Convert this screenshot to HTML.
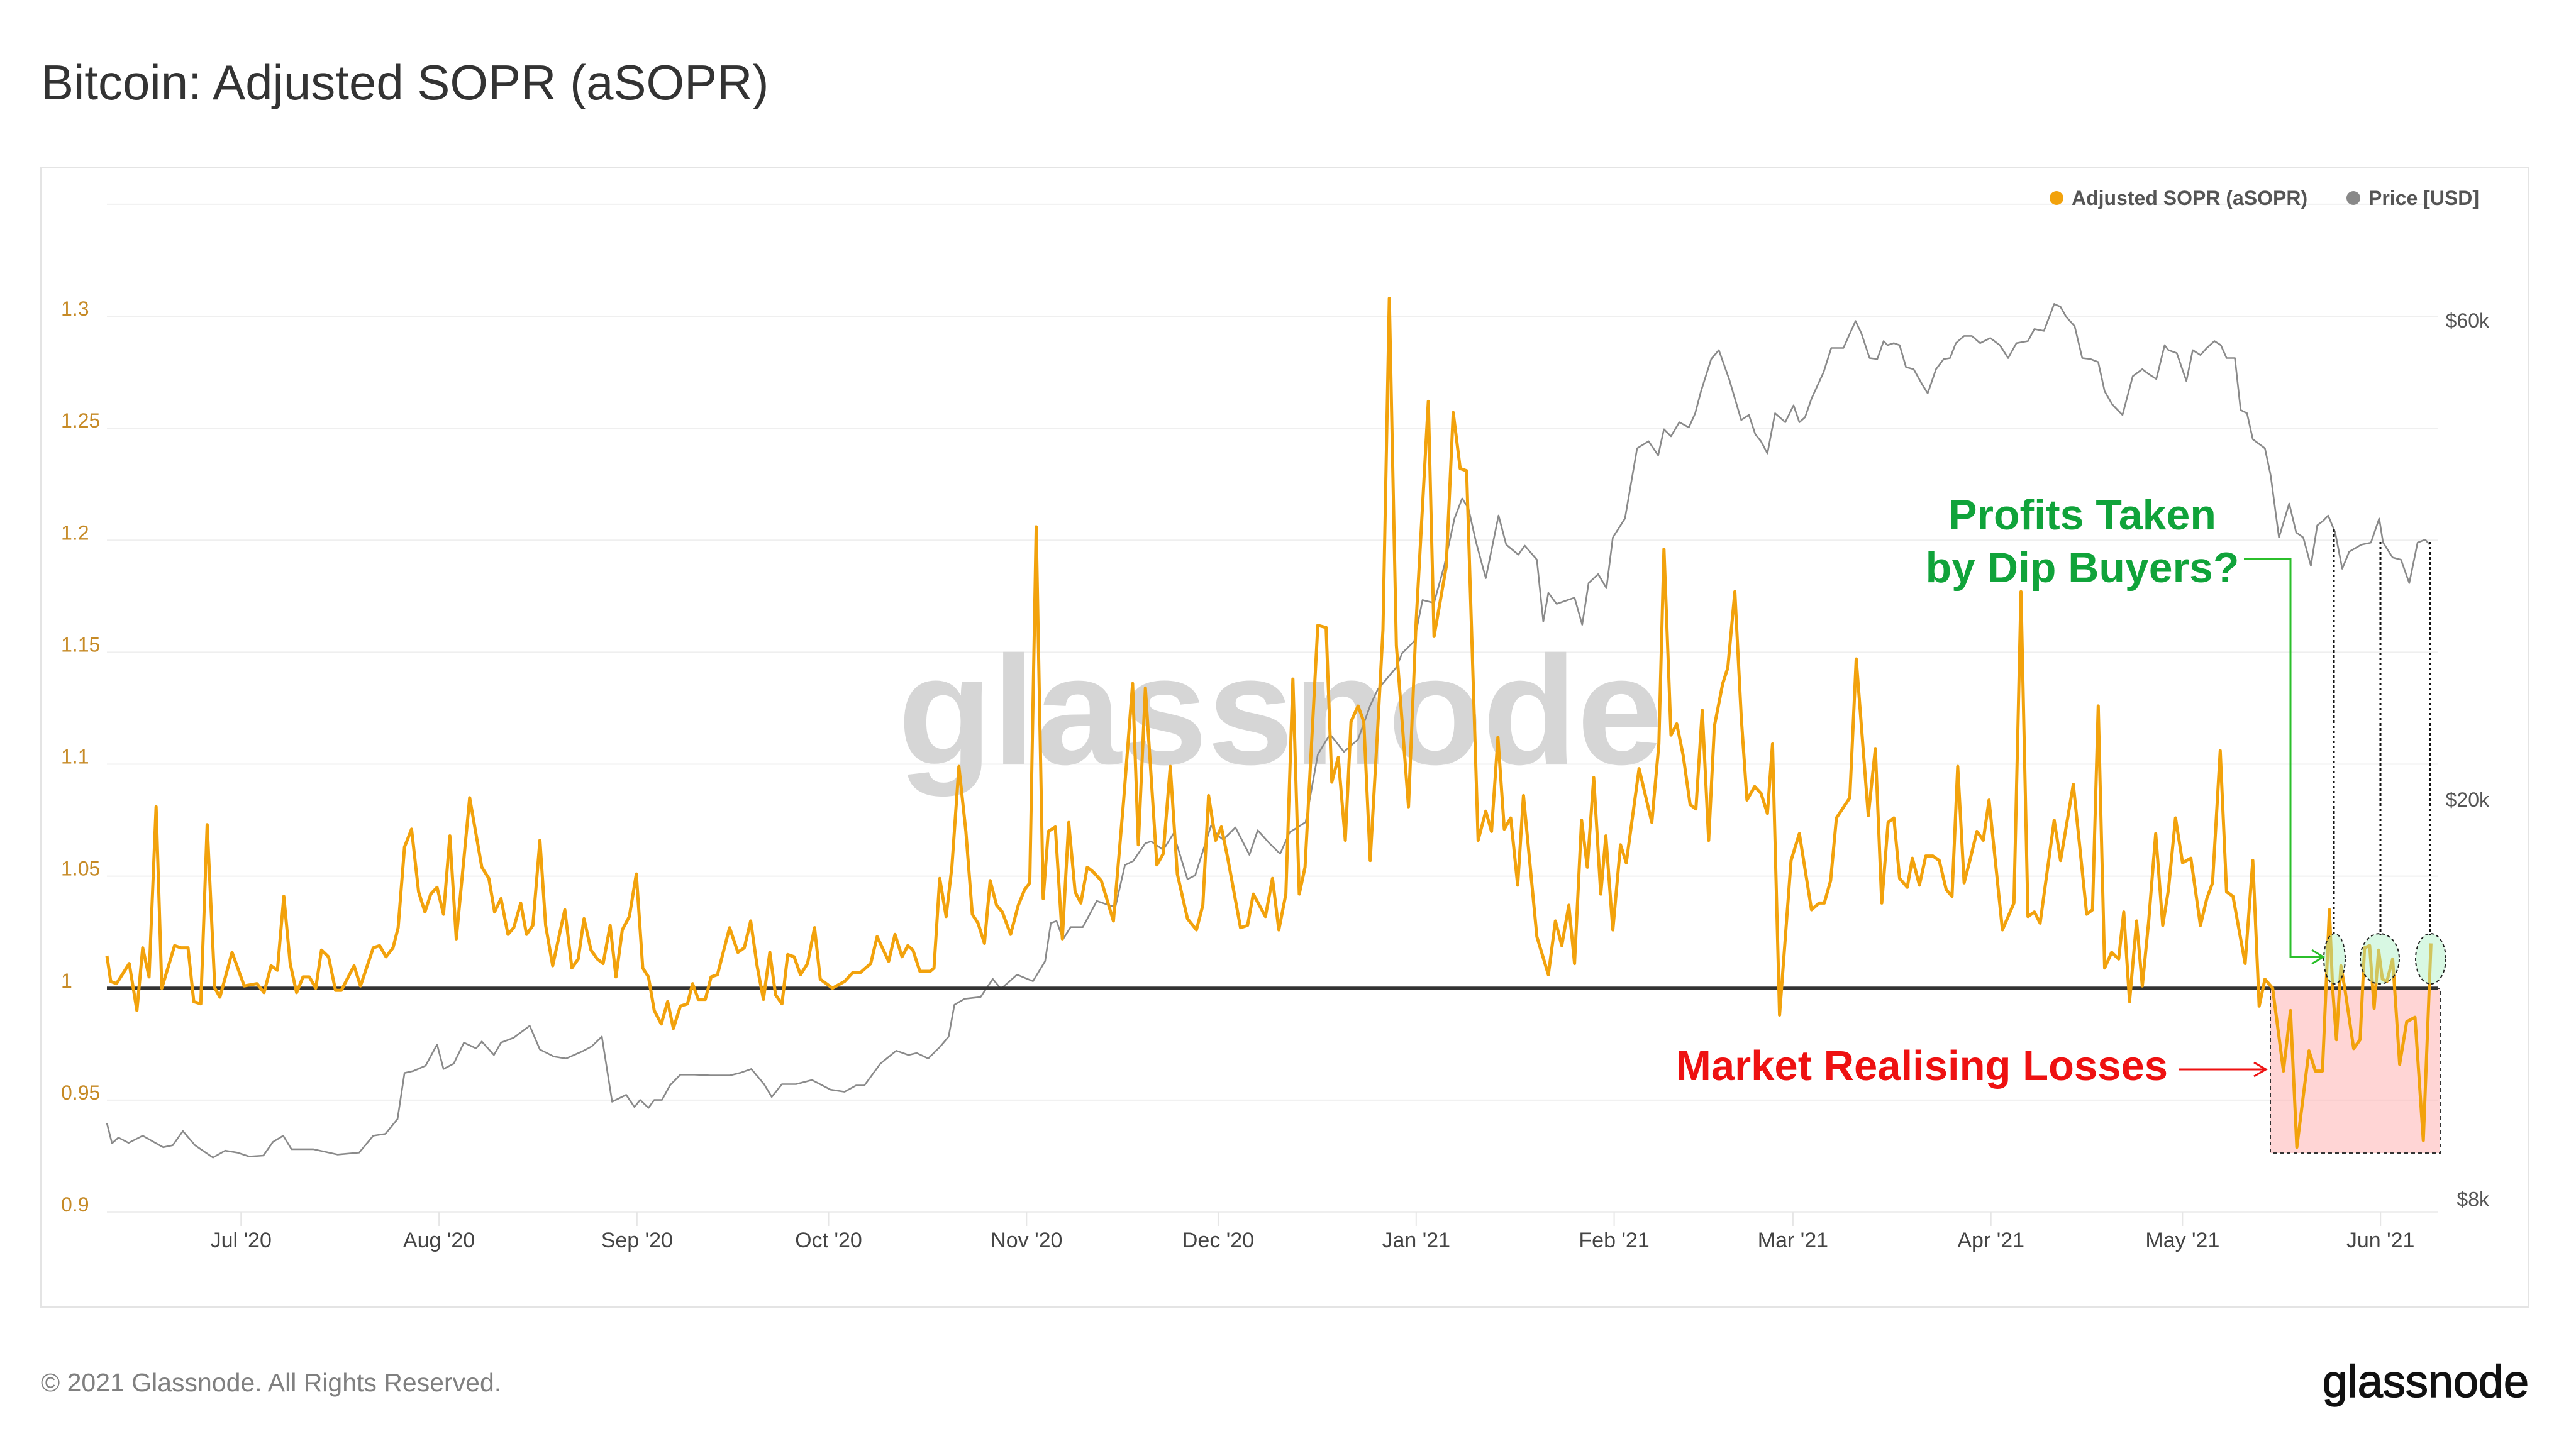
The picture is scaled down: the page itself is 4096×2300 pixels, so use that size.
<!DOCTYPE html>
<html><head><meta charset="utf-8"><style>
html,body{margin:0;padding:0;background:#fff;}
svg{display:block;font-family:"Liberation Sans",sans-serif;}
</style></head><body>
<svg id="chart" width="4096" height="2300" viewBox="0 0 4096 2300" xmlns="http://www.w3.org/2000/svg">
<rect x="0" y="0" width="4096" height="2300" fill="#fff"/>
<text x="65" y="158" font-size="78" fill="#333">Bitcoin: Adjusted SOPR (aSOPR)</text>
<rect x="65" y="267" width="3956" height="1812" fill="#fff" stroke="#e4e4e4" stroke-width="2"/>
<g id="grid"></g>
<text x="2036" y="1215" font-size="246" font-weight="bold" fill="#d6d6d6" text-anchor="middle">glassnode</text>
<g id="axes"></g>
<rect x="3610" y="1572" width="270" height="262" fill="#ffb3b3" fill-opacity="0.55" stroke="#333" stroke-width="2" stroke-dasharray="6 5"/>
<g id="series"></g>
<g>
<ellipse cx="3712" cy="1525" rx="17" ry="40" fill="#a8f0c0" fill-opacity="0.45" stroke="#222" stroke-width="2" stroke-dasharray="5 4"/>
<ellipse cx="3784" cy="1525" rx="31" ry="40" fill="#a8f0c0" fill-opacity="0.45" stroke="#222" stroke-width="2" stroke-dasharray="5 4"/>
<ellipse cx="3865" cy="1525" rx="24" ry="40" fill="#a8f0c0" fill-opacity="0.45" stroke="#222" stroke-width="2" stroke-dasharray="5 4"/>
<line x1="3711" y1="842" x2="3711" y2="1488" stroke="#111" stroke-width="3" stroke-dasharray="4 4"/>
<line x1="3785" y1="862" x2="3785" y2="1488" stroke="#111" stroke-width="3" stroke-dasharray="4 4"/>
<line x1="3864" y1="862" x2="3864" y2="1488" stroke="#111" stroke-width="3" stroke-dasharray="4 4"/>
<polyline points="3568,889 3642,889 3642,1522 3690,1522" fill="none" stroke="#2bbf2b" stroke-width="3"/>
<polyline points="3676,1511 3694,1522 3676,1533" fill="none" stroke="#2bbf2b" stroke-width="3"/>
<text x="3311" y="842" font-size="68" font-weight="bold" fill="#10a33a" text-anchor="middle">Profits Taken</text>
<text x="3311" y="926" font-size="68" font-weight="bold" fill="#10a33a" text-anchor="middle">by Dip Buyers?</text>
<text x="3447" y="1718" font-size="67" font-weight="bold" fill="#ee1111" text-anchor="end">Market Realising Losses</text>
<line x1="3464" y1="1701" x2="3600" y2="1701" stroke="#ee1111" stroke-width="3"/>
<polyline points="3584,1690 3603,1701 3584,1712" fill="none" stroke="#ee1111" stroke-width="3"/>
</g>
<g>
<g><circle cx="3270" cy="315" r="11" fill="#f2a20c"/><text x="3294" y="326" font-size="32" font-weight="bold" fill="#555">Adjusted SOPR (aSOPR)</text></g>
<g><circle cx="3742" cy="315" r="11" fill="#888"/><text x="3766" y="326" font-size="32" font-weight="bold" fill="#555">Price [USD]</text></g>
</g>
<text x="65" y="2213" font-size="41" fill="#808080">© 2021 Glassnode. All Rights Reserved.</text>
<text x="4021" y="2222" font-size="72" fill="#111" stroke="#111" stroke-width="1.5" text-anchor="end">glassnode</text>
</svg>
<script>
const sDays=[0,0.6,1.5,3.5,4.7,5.6,6.6,7.7,8.6,10.6,11.6,12.7,13.6,14.7,15.7,16.9,17.7,19.6,21.5,23.5,24.6,25.7,26.7,27.7,28.7,29.7,30.7,31.7,32.7,33.6,34.7,35.8,36.7,38.7,39.7,41.7,42.7,43.7,44.8,45.6,46.6,47.7,48.8,49.8,50.7,51.7,52.7,53.7,54.7,56.8,58.7,59.8,60.7,61.7,62.8,63.7,64.8,65.7,66.7,67.8,68.7,69.8,71.7,72.8,73.8,74.7,75.8,76.8,77.7,78.8,79.7,80.7,81.8,82.9,83.9,84.8,85.7,86.8,87.8,88.7,89.8,90.9,91.7,92.6,93.7,94.6,95.6,97.5,
98.8,99.8,100.8,101.8,102.8,103.8,104.7,105.7,106.6,107.6,108.6,109.7,110.8,111.7,113.6,115.5,116.8,118,119.6,120.6,122.4,123.4,124.5,125.4,126.2,127.3,128.9,129.5,130.4,131.4,132.3,133.4,134.5,135.5,136.4,137.4,138.3,139.3,140.2,141.5,142.7,143.7,144.5,145.5,146.6,147.4,148.5,149.6,150.6,151.6,152.5,153.5,154.4,155.7,157.6,159.2,160.6,161.5,162.6,164.4,165.4,166.5,167.6,169.2,170.6,171.6,172.5,173.6,174.5,175.5,177.5,178.6,179.5,181.4,182.5,183.5,184.6,185.7,186.7,187.6,189.6,
190.9,191.8,192.8,193.9,194.8,195.9,196.8,197.8,199.0,199.8,200.8,201.9,203.8,205.0,206.9,207.8,209.7,210.8,211.9,212.9,214.7,215.9,216.8,217.8,218.8,219.8,220.9,221.8,223.9,225.7,226.8,227.8,228.9,229.8,230.9,231.8,232.8,233.9,234.7,235.8,237.0,237.9,239.9,241.9,243.0,243.8,244.9,245.8,246.8,247.9,248.8,249.8,250.8,251.7,253.0,253.8,254.9,255.9,256.8,258.0,259.0,260.0,260.8,261.9,263.7,265.0,266.9,268.1,268.9,269.9,270.8,272.9,273.9,275.8,276.9,277.9,
278.9,279.8,280.7,281.9,282.7,283.8,284.8,285.9,286.9,288.0,288.9,289.8,290.8,291.7,292.8,293.8,294.7,296.8,298.6,299.7,300.8,301.8,302.7,304.9,305.9,307.9,310.0,310.9,311.8,312.8,313.9,315.0,315.8,316.7,317.8,318.7,319.7,320.8,321.9,322.8,323.9,325.0,326.3,327.8,328.8,329.7,330.9,331.9,332.9,334.8,336.0,337.0,337.9,339.1,340.8,341.9,342.9,344.8,345.8,346.9,348.0,348.5,349.1,349.8,350.4,351.8,352.8,353.5,354.3,355.0,355.7,356.3,357.0,357.9,359.0,360.1,361.4,362.7,363.9];
const sVals=[1.0145,1.003,1.002,1.011,0.99,1.018,1.005,1.081,1.0,1.019,1.018,1.018,0.994,0.993,1.073,1.0,0.996,1.016,1.001,1.002,0.998,1.01,1.008,1.041,1.011,0.998,1.005,1.005,1.0,1.017,1.014,0.999,0.999,1.01,1.001,1.018,1.019,1.014,1.018,1.027,1.063,1.071,1.043,1.034,1.042,1.045,1.033,1.068,1.022,1.085,1.054,1.049,1.034,1.04,1.024,1.027,1.038,1.024,1.028,1.066,1.028,1.01,1.035,1.009,1.013,1.031,1.017,1.013,1.011,1.028,1.005,1.026,1.032,1.051,1.009,1.005,0.99,0.984,0.994,0.982,0.992,0.993,1.002,0.995,0.995,1.005,1.006,1.027,
1.016,1.018,1.03,1.01,0.995,1.016,0.997,0.993,1.015,1.014,1.006,1.011,1.027,1.004,1.0,1.003,1.007,1.007,1.011,1.023,1.012,1.024,1.014,1.019,1.017,1.0075,1.0075,1.009,1.049,1.032,1.054,1.099,1.07,1.033,1.029,1.02,1.048,1.037,1.034,1.024,1.037,1.044,1.047,1.206,1.04,1.07,1.072,1.022,1.074,1.043,1.038,1.054,1.052,1.048,1.03,1.084,1.136,1.064,1.134,1.055,1.06,1.099,1.051,1.031,1.026,1.037,1.086,1.066,1.072,1.058,1.027,1.028,1.042,1.032,1.049,1.026,1.042,1.138,1.042,1.054,1.162,
1.161,1.092,1.103,1.066,1.119,1.126,1.119,1.057,1.117,1.16,1.308,1.153,1.081,1.164,1.262,1.157,1.188,1.257,1.232,1.231,1.066,1.079,1.07,1.112,1.071,1.076,1.046,1.086,1.023,1.006,1.03,1.019,1.037,1.011,1.075,1.054,1.094,1.042,1.068,1.026,1.064,1.056,1.098,1.074,1.109,1.196,1.113,1.118,1.104,1.082,1.08,1.124,1.066,1.117,1.136,1.143,1.177,1.121,1.084,1.09,1.087,1.078,1.109,0.988,1.057,1.069,1.035,1.038,1.038,1.048,1.076,1.085,1.147,1.077,1.107,1.038,
1.074,1.076,1.049,1.045,1.058,1.046,1.059,1.059,1.057,1.044,1.041,1.099,1.047,1.057,1.07,1.066,1.084,1.026,1.038,1.177,1.032,1.034,1.029,1.075,1.057,1.091,1.033,1.035,1.126,1.009,1.016,1.013,1.034,0.994,1.03,1.001,1.03,1.069,1.028,1.044,1.076,1.056,1.058,1.028,1.04,1.047,1.106,1.043,1.041,1.011,1.057,0.992,1.004,1.0,0.963,0.99,0.929,0.972,0.963,0.963,1.035,1.0,0.977,1.01,1.0,0.973,0.977,1.018,1.019,0.991,1.017,1.004,1.003,1.013,0.966,0.985,0.987,0.932,1.02];
const pDays=[0,0.8,1.8,3.4,5.6,8.8,10.3,11.9,13.8,16.6,18.5,20.4,22.3,24.5,26,27.6,28.9,32.3,36.1,39.5,41.7,43.6,45.5,46.6,48,49.9,51.7,52.7,54.3,55.9,57.8,58.7,60.6,61.7,63.7,66.2,67.8,70,71.9,74.4,75.9,77.5,79.1,81.3,82.6,83.5,84.8,85.7,86.9,88.2,89.8,92,94.5,96.1,97.5,
99.1,100.9,102.9,104.1,105.7,107.9,110.4,113.3,115.5,117.3,118.6,121.1,123.6,125.5,126.8,128.6,130.5,131.8,132.7,134.3,136.8,138.7,140,142.5,145,146.9,147.8,148.7,149.7,150.9,152.8,155,156.9,157.9,159.4,160.7,162.6,163.5,165.4,167,169.2,170.4,172.9,173.9,174.8,176.7,178.9,
180.2,182.1,183.7,185.2,187.7,189.6,191.5,193.7,195.9,197.8,199,201.9,202.8,204.7,206,207.8,209.4,211,212.2,213.2,214.4,215.9,217.9,219.1,221,222,223.9,224.9,225.7,227,229.8,231,232,233.5,234.8,235.8,237.7,239.6,241.4,242.9,243.8,244.9,246.2,247.7,248.7,249.6,251.2,252.4,254,255.9,257.1,258.1,259,260,261.2,262.8,264.1,265,265.9,266.9,268.8,270,271.9,273.8,274.7,276,277.2,278.2,
278.8,279.8,280.7,281.7,282.9,284.2,285.1,286.4,287.6,288.6,289.5,290.8,292,293.3,294.9,296.4,297.7,299,300.8,301.8,303.3,304.9,305.9,306.8,308.1,309.3,310.6,311.8,312.8,314,315.6,317.2,318.7,319.7,320.9,322.2,322.8,324.1,325.6,326.6,327.8,328.8,330,331,331.9,333.2,334.1,335.1,336,337.9,338.8,340.1,341.7,342.8,343.9,345.1,346.1,347,347.8,348.9,350,351.1,353,354.5,355.8,356.4,357.9,359.2,360.5,361.8,363,363.7,364.3,364.9];
const pVals=[9510,9080,9200,9090,9240,9000,9040,9340,9040,8790,8930,8890,8810,8830,9110,9240,8960,8960,8850,8890,9240,9280,9600,10670,10720,10850,11390,10770,10900,11440,11290,11470,11120,11440,11570,11890,11260,11080,11030,11210,11340,11600,9990,10150,9870,10030,9850,10030,10030,10380,10630,10630,10610,10610,10610,
10670,10770,10400,10100,10400,10400,10500,10270,10220,10370,10370,10900,11230,11120,11170,11030,11340,11600,12480,12650,12700,13240,12940,13370,13170,13790,15050,15120,14500,14910,14910,15830,15680,15610,17190,17350,18070,18150,17800,18480,16640,16790,18830,18400,18220,18740,17600,
18620,18050,17640,18530,18970,22150,23200,22290,22930,24780,25720,27050,27940,28720,31570,31360,34150,38060,39850,38940,36010,33200,38320,35840,35030,35760,34630,30050,32090,31290,31740,29830,32820,33500,32440,36440,38060,44700,45430,43990,46700,45960,47460,46900,48450,50960,54860,56000,52400,47700,48260,46170,45430,44180,48450,47460,49340,47460,48010,50100,53250,56270,56270,59860,58220,54990,
54860,57170,56640,56900,56640,53850,53600,51800,50720,53600,54860,54990,56900,57840,57840,56900,57570,56640,54990,56900,57170,58770,58510,62260,61840,60410,59170,54990,54860,54490,50960,49440,48260,52740,53600,53000,52400,56640,56000,55620,52160,56000,55370,56270,57170,56640,54990,54990,48810,48450,45640,44700,42020,36440,39390,36860,36440,34150,37460,37850,38320,36860,33920,35270,35840,36010,38060,36010,34800,34630,32820,36010,36260,35840];
const leftTicks=[0.9,0.95,1,1.05,1.1,1.15,1.2,1.25,1.3];
const leftTickLabels=["0.9","0.95","1","1.05","1.1","1.15","1.2","1.25","1.3"];
const rightTicks=[8000,20000,60000];
const rightTickLabels=["$8k","$20k","$60k"];
const monthDays=[21,52,83,113,144,174,205,236,264,295,325,356];
const monthLabels=["Jul '20","Aug '20","Sep '20","Oct '20","Nov '20","Dec '20","Jan '21","Feb '21","Mar '21","Apr '21","May '21","Jun '21"];

const NS="http://www.w3.org/2000/svg";
const X0=170,X1=3877;
function xS(d){return 170+d*10.155;}
function yS(v){return 503+(1.3-v)/0.4*1425;}
function yP(p){return 509+(Math.log10(60000)-Math.log10(p))*1597;}
function mk(tag,attrs,parent){const e=document.createElementNS(NS,tag);for(const k in attrs)e.setAttribute(k,attrs[k]);parent.appendChild(e);return e;}
const grid=document.getElementById('grid'),axes=document.getElementById('axes'),series=document.getElementById('series');
const gtop=mk('line',{x1:X0,x2:X1,y1:yS(1.35),y2:yS(1.35),stroke:'#f0f0f0','stroke-width':2},grid);


leftTicks.forEach((v,i)=>{
  const g=mk('line',{x1:X0,x2:X1,y1:yS(v),y2:yS(v),stroke:'#efefef','stroke-width':2},grid);
  
  
  const t=mk('text',{x:97,y:yS(v)-1,'font-size':32,fill:'#c68a26'},axes);
  t.textContent=leftTickLabels[i];
  
  
});
rightTicks.forEach((p,i)=>{
  const t=mk('text',{x:3958,y:yP(p)+12,'font-size':32,fill:'#555','text-anchor':'end'},axes);
  t.textContent=rightTickLabels[i];
  
  
});
monthDays.forEach((d,i)=>{
  const tk=mk('line',{x1:xS(d),x2:xS(d),y1:1928,y2:1950,stroke:'#e6e6e6','stroke-width':2},axes);
  
  
  const t=mk('text',{x:xS(d),y:1984,'font-size':34,fill:'#444','text-anchor':'middle'},axes);
  t.textContent=monthLabels[i];
  
  
});
let pp='';pDays.forEach((d,i)=>{pp+=(i?'L':'M')+xS(d).toFixed(1)+' '+yP(pVals[i]).toFixed(1);});
const pl=mk('path',{d:pp,fill:'none',stroke:'#8a8a8a','stroke-width':2.6,'stroke-linejoin':'round'},series);


const bl=mk('line',{x1:X0,x2:X1,y1:yS(1),y2:yS(1),stroke:'#333','stroke-width':5},series);


let sp='';sDays.forEach((d,i)=>{sp+=(i?'L':'M')+xS(d).toFixed(1)+' '+yS(sVals[i]).toFixed(1);});
const sl=mk('path',{d:sp,fill:'none',stroke:'#f2a20c','stroke-width':5,'stroke-linejoin':'round'},series);


</script>
</body></html>
